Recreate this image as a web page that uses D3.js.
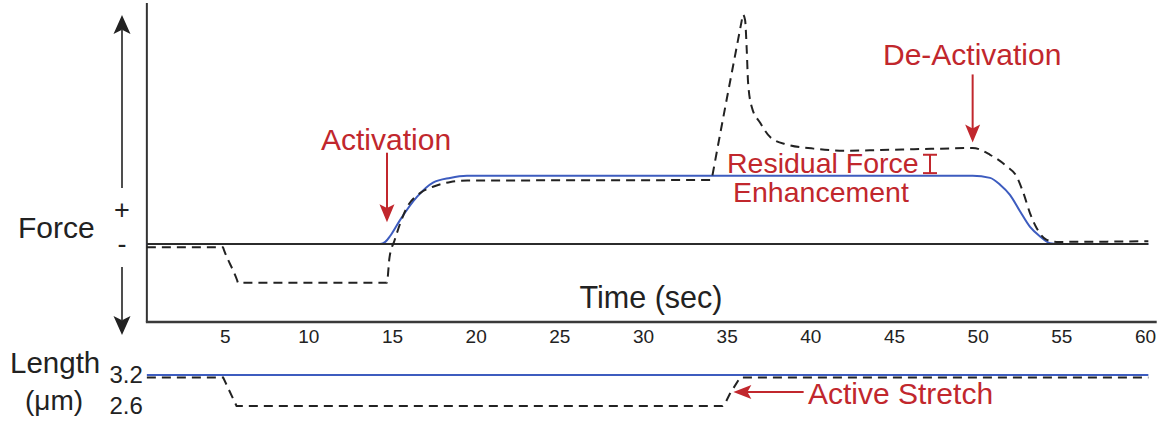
<!DOCTYPE html>
<html>
<head>
<meta charset="utf-8">
<script src="https://cdn.jsdelivr.net/npm/d3@7"></script>
<style>
  html, body { margin: 0; padding: 0; background: #fff; }
  svg { display: block; }
  text { font-family: "Liberation Sans", Arial, Helvetica, sans-serif; }
</style>
</head>
<body>
<svg id="chart" width="1162" height="423"></svg>
<script>
// ---- data (time in s, force in relative units, length in µm) ----
const timeTicks = [5, 10, 15, 20, 25, 30, 35, 40, 45, 50, 55, 60];
const lengthTicks = [3.2, 2.6];

// isometric contraction at the final length (solid blue)
const forceIsometric = [
  [0.35, 0], [14.28, 0], [14.6, 0.03], [14.9, 0.12], [15.48, 0.35], [16.49, 0.69],
  [17.45, 0.90], [18.47, 0.97], [19.48, 1.0], [49.7, 1.0], [50.74, 0.97],
  [51.34, 0.87], [51.93, 0.72], [52.53, 0.48], [53.13, 0.25], [53.73, 0.11],
  [54.32, 0.01], [54.8, 0], [60.2, 0]
];

// contraction with active stretch (dashed)
const forceStretch = [
  [0.35, -0.05], [4.9, -0.05], [4.96, -0.09], [5.74, -0.53], [5.8, -0.57],
  [14.7, -0.57], [14.74, -0.50], [14.85, -0.2], [15.15, 0.05], [15.9, 0.54],
  [16.7, 0.75], [17.45, 0.84], [18.5, 0.91], [19.5, 0.93], [34.1, 0.94],
  [34.16, 1.02], [35.9, 3.28], [35.97, 3.37], [36.1, 3.29], [36.2, 2.85],
  [36.28, 2.37], [36.5, 2.01], [37.0, 1.78], [37.6, 1.57], [38.6, 1.46],
  [40.2, 1.40], [42.2, 1.37], [44.2, 1.38], [47.8, 1.40], [49.7, 1.41],
  [50.74, 1.31], [51.73, 1.14], [52.33, 0.99], [52.73, 0.75], [53.13, 0.45],
  [53.53, 0.23], [54.13, 0.06], [54.72, 0.03], [60.2, 0.04]
];

const forceBaseline = [[0.35, 0], [60.2, 0]];

const lengthIsometric = [[0.35, 3.2], [60.2, 3.2]];
const lengthStretch = [
  [0.35, 3.15], [4.91, 3.15], [5.71, 2.6], [34.75, 2.6], [34.95, 2.68],
  [35.2, 2.84], [35.8, 3.15], [60.2, 3.15]
];

// ---- scales ----
const x = d3.scaleLinear().domain([0, 60]).range([141, 1145]);
const yF = d3.scaleLinear().domain([-1.147, 3.51]).range([322, 5]);
const yL = d3.scaleLinear().domain([2.6, 3.2]).range([406, 375]);

const tStart = 0.35, tAxisEnd = 60.7;
const red = "#c1272d", blue = "#3d5cbf", ink = "#222";
const dash = "9,6";

const svg = d3.select("#chart");

// ---- frame ----
svg.append("line")
  .attr("x1", x(tStart)).attr("x2", x(tStart))
  .attr("y1", yF.range()[1] - 2).attr("y2", yF.range()[0])
  .attr("stroke", "#333").attr("stroke-width", 2);

const xAxis = svg.append("g")
  .attr("transform", `translate(0,${yF.range()[0]})`)
  .call(d3.axisBottom(x).tickValues(timeTicks).tickSize(0).tickPadding(8));
xAxis.select(".domain").remove();
xAxis.selectAll("text")
  .attr("font-family", '"Open Sans", "Noto Sans", sans-serif')
  .attr("font-size", 19).attr("fill", "#222");

svg.append("line")
  .attr("x1", x(tStart) - 1).attr("x2", x(tAxisEnd))
  .attr("y1", yF.range()[0]).attr("y2", yF.range()[0])
  .attr("stroke", "#3a3a3a").attr("stroke-width", 2.5);

// ---- force traces ----
const lineF = d3.line().x(d => x(d[0])).y(d => yF(d[1])).curve(d3.curveMonotoneX);

svg.append("path").datum(forceIsometric)
  .attr("d", lineF).attr("fill", "none")
  .attr("stroke", blue).attr("stroke-width", 2);

svg.append("path").datum(forceBaseline)
  .attr("d", d3.line().x(d => x(d[0])).y(d => yF(d[1])))
  .attr("fill", "none").attr("stroke", "#2b2b2b").attr("stroke-width", 2);

svg.append("path").datum(forceStretch)
  .attr("d", lineF).attr("fill", "none")
  .attr("stroke", ink).attr("stroke-width", 2)
  .attr("stroke-dasharray", dash);

// ---- length traces ----
const lineL = d3.line().x(d => x(d[0])).y(d => yL(d[1]));

svg.append("path").datum(lengthIsometric)
  .attr("d", lineL).attr("fill", "none")
  .attr("stroke", blue).attr("stroke-width", 2.2);

svg.append("path").datum(lengthStretch)
  .attr("d", lineL).attr("fill", "none")
  .attr("stroke", ink).attr("stroke-width", 2)
  .attr("stroke-dasharray", dash);

const yAxisL = svg.append("g")
  .attr("transform", `translate(${x(tStart)},0)`)
  .call(d3.axisLeft(yL).tickValues(lengthTicks).tickFormat(d3.format(".1f")).tickSize(0).tickPadding(4));
yAxisL.select(".domain").remove();
yAxisL.selectAll("text")
  .attr("font-family", '"Liberation Sans", Arial, sans-serif')
  .attr("font-size", 24).attr("fill", "#222");

// ---- arrow helper: filled head with a shallow notch ----
function arrowHead(g, tipX, tipY, dx, dy, len, half, color) {
  const bx = tipX - dx * len, by = tipY - dy * len;
  const nx = tipX - dx * len * 0.78, ny = tipY - dy * len * 0.78;
  const px = -dy, py = dx;
  g.append("path")
    .attr("d", `M${tipX},${tipY}L${bx + px * half},${by + py * half}L${nx},${ny}L${bx - px * half},${by - py * half}Z`)
    .attr("fill", color);
}

// ---- force direction arrows (left) ----
const ax = 122;
svg.append("line").attr("x1", ax).attr("x2", ax).attr("y1", 30).attr("y2", 188)
  .attr("stroke", ink).attr("stroke-width", 1.6);
arrowHead(svg, ax, 15, 0, -1, 19, 8.5, ink);
svg.append("line").attr("x1", ax).attr("x2", ax).attr("y1", 267).attr("y2", 320)
  .attr("stroke", ink).attr("stroke-width", 1.6);
arrowHead(svg, ax, 335, 0, 1, 19, 8.5, ink);

svg.append("text").attr("x", ax).attr("y", 219).attr("text-anchor", "middle")
  .attr("font-size", 27).attr("fill", ink).text("+");
svg.append("text").attr("x", ax).attr("y", 253).attr("text-anchor", "middle")
  .attr("font-size", 27).attr("fill", ink).text("-");

// ---- axis titles ----
svg.append("text").attr("x", 18).attr("y", 238)
  .attr("font-size", 30).attr("fill", ink).text("Force");
svg.append("text").attr("x", 651).attr("y", 308).attr("text-anchor", "middle")
  .attr("font-size", 30.5).attr("fill", ink).text("Time (sec)");
svg.append("text").attr("x", 10).attr("y", 373)
  .attr("font-size", 29.5).attr("fill", ink).text("Length");
svg.append("text").attr("x", 25).attr("y", 410)
  .attr("font-size", 28).attr("fill", ink).text("(μm)");

// ---- annotations ----
const ann = svg.append("g");

// Activation
ann.append("text").attr("x", 321).attr("y", 150)
  .attr("font-size", 30).attr("fill", red).text("Activation");
ann.append("line").attr("x1", x(14.7)).attr("x2", x(14.7))
  .attr("y1", yF(1.34)).attr("y2", yF(0.5))
  .attr("stroke", red).attr("stroke-width", 2);
arrowHead(ann, x(14.7), yF(0.32), 0, 1, 18, 7.5, red);

// De-Activation
ann.append("text").attr("x", 883).attr("y", 65)
  .attr("font-size", 30).attr("fill", red).text("De-Activation");
ann.append("line").attr("x1", x(49.7)).attr("x2", x(49.7))
  .attr("y1", yF(2.49)).attr("y2", yF(1.65))
  .attr("stroke", red).attr("stroke-width", 2);
arrowHead(ann, x(49.7), yF(1.49), 0, 1, 18, 7.5, red);

// Residual Force Enhancement
ann.append("text").attr("x", 727).attr("y", 173)
  .attr("font-size", 28.5).attr("fill", red).text("Residual Force");
ann.append("text").attr("x", 733).attr("y", 202)
  .attr("font-size", 28.5).attr("fill", red).text("Enhancement");
const ibx = 930, ibTop = yF(1.31), ibBot = yF(1.04);
ann.append("line").attr("x1", ibx).attr("x2", ibx).attr("y1", ibTop).attr("y2", ibBot)
  .attr("stroke", red).attr("stroke-width", 2);
[ibTop, ibBot].forEach(yy => ann.append("line")
  .attr("x1", ibx - 7).attr("x2", ibx + 7).attr("y1", yy).attr("y2", yy)
  .attr("stroke", red).attr("stroke-width", 2));

// Active Stretch
ann.append("text").attr("x", 808).attr("y", 404)
  .attr("font-size", 30).attr("fill", red).text("Active Stretch");
ann.append("line").attr("x1", x(39.6)).attr("x2", x(35.9))
  .attr("y1", yL(2.87)).attr("y2", yL(2.87))
  .attr("stroke", red).attr("stroke-width", 2);
arrowHead(ann, x(35.4), yL(2.87), -1, 0, 18, 7, red);
</script>
</body>
</html>
